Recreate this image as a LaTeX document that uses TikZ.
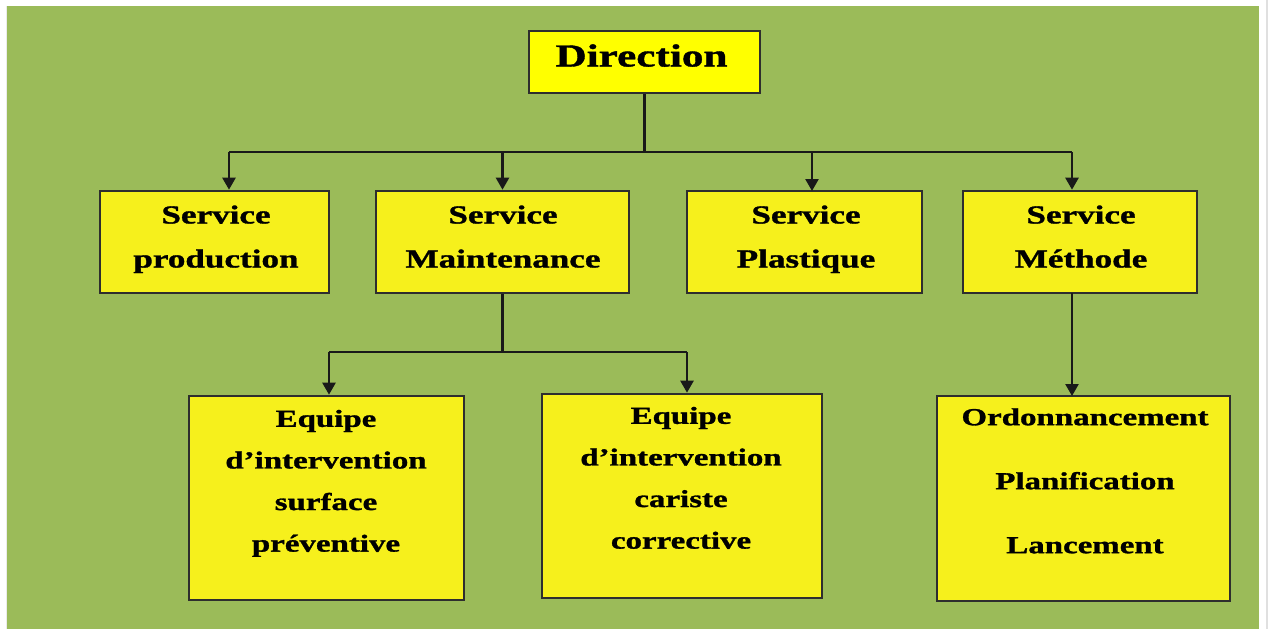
\documentclass[tikz,border=0pt]{standalone}
\usepackage{fontspec}
\setmainfont{Liberation Serif}[FakeStretch=1.35, BoldFeatures={FakeBold=1.2}]
\usetikzlibrary{arrows.meta}
\definecolor{bggreen}{HTML}{9BBB59}
\definecolor{boxyellow}{HTML}{F6F01C}
\definecolor{topyellow}{HTML}{FFFF00}
\definecolor{edge}{HTML}{2E2E2E}
\tikzset{
  box/.style={draw=edge, line width=2.6pt, fill=boxyellow, inner sep=0pt},
  lbl/.style={font=\fontsize{26}{44}\selectfont\bfseries, align=center, inner sep=0pt, text=black, anchor=north},
  lbltwo/.style={lbl, font=\fontsize{24.4}{41.6}\selectfont\bfseries},
  link/.style={draw=black!90, line width=2.4pt},
  arr/.style={link, -{Triangle[width=13pt,length=12pt]}},
}
\begin{document}
\begin{tikzpicture}[x=1pt,y=-1pt]
  \useasboundingbox (0,0) rectangle (1269,629);
  \fill[white] (0,0) rectangle (1269,629);
  \fill[bggreen] (7,6) rectangle (1259,629);
  \draw[black!12, line width=1.5pt] (1267,0) -- (1267,629);
  \draw[black!8, line width=1pt] (6,6) -- (6,629);

  % boxes
  \node[box, fill=topyellow, minimum width=231pt, minimum height=62pt] (dir) at (644.5,62) {};
  \node[box, minimum width=229pt, minimum height=102pt] (prod) at (214.5,242) {};
  \node[box, minimum width=253pt, minimum height=102pt] (maint) at (502.5,242) {};
  \node[box, minimum width=235pt, minimum height=102pt] (plast) at (804.5,242) {};
  \node[box, minimum width=234pt, minimum height=102pt] (meth) at (1080,242) {};
  \node[box, minimum width=275pt, minimum height=204pt] (surf) at (326.5,498) {};
  \node[box, minimum width=280pt, minimum height=204pt] (car) at (682,496) {};
  \node[box, minimum width=293pt, minimum height=205pt] (ord) at (1083.5,498.5) {};

  % labels (first line carries a strut so that the baselines line up)
  \node[font=\fontsize{32}{36}\selectfont\bfseries, inner sep=0pt, anchor=base] (tdir) at (641.5,66.5) {Direction};
  \node[lbl] (tprod) at (216,192.5) {\strut Service\\production};
  \node[lbl] (tmaint) at (503,192.5) {\strut Service\\Maintenance};
  \node[lbl] (tplast) at (806,192.5) {\strut Service\\Plastique};
  \node[lbl] (tmeth) at (1081,192.5) {\strut Service\\Méthode};
  \node[lbltwo] (tsurf) at (326,397.5) {\strut Equipe\\d’intervention\\surface\\préventive};
  \node[lbltwo] (tcar) at (681,394.5) {\strut Equipe\\d’intervention\\cariste\\corrective};
  \node[lbltwo, font=\fontsize{24.4}{64}\selectfont\bfseries] (tord) at (1085,380.2) {\strut Ordonnancement\\Planification\\Lancement};

  % connectors
  \coordinate (busL) at (229,152);
  \coordinate (busR) at (1072,152);
  \draw[link] (dir.south) -- (dir.south |- busL);
  \draw[link] (busL) -- (busR);
  \draw[arr] (busL) -- (busL |- prod.north);
  \draw[arr] (maint.north |- busL) -- (maint.north);
  \draw[arr] (812,152) -- (812,191);
  \draw[arr] (busR) -- (busR |- meth.north);

  \coordinate (bus2L) at (329,352);
  \coordinate (bus2R) at (687,352);
  \draw[link] (maint.south) -- (maint.south |- bus2L);
  \draw[link] (bus2L) -- (bus2R);
  \draw[arr] (bus2L) -- (bus2L |- surf.north);
  \draw[arr] (bus2R) -- (bus2R |- car.north);
  \draw[arr] (1072,293) -- (1072,396);
\end{tikzpicture}
\end{document}
